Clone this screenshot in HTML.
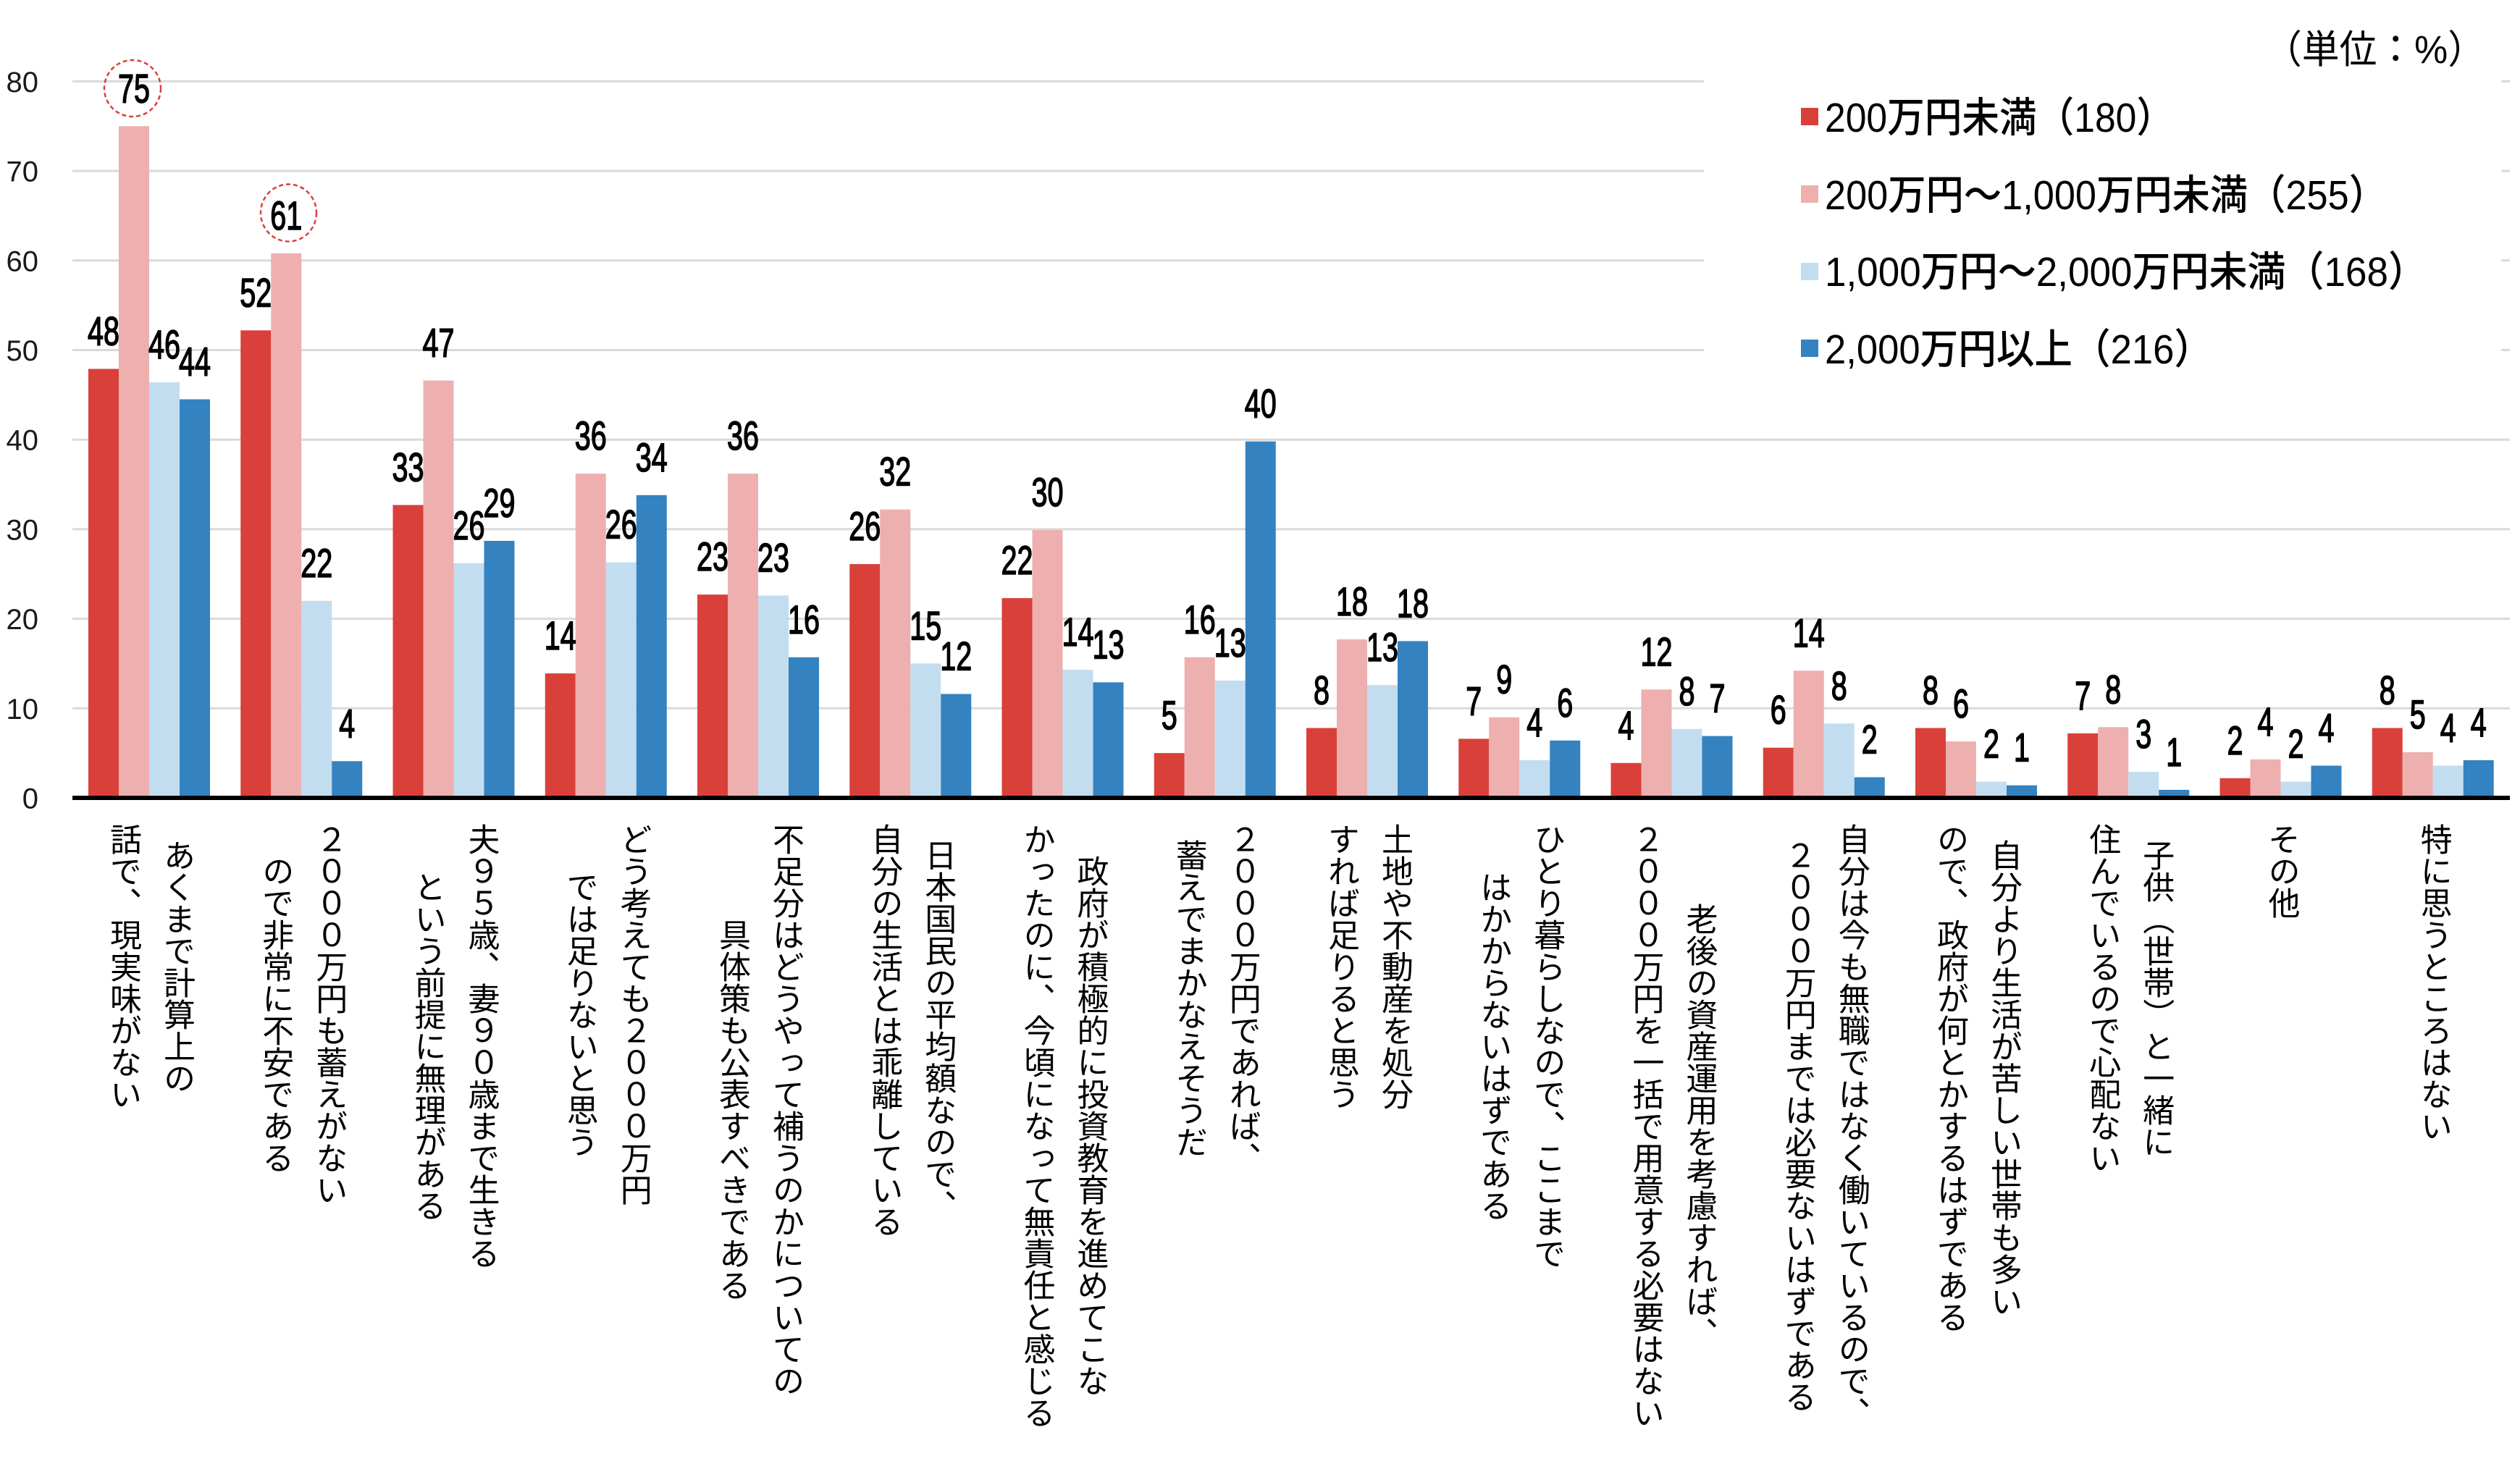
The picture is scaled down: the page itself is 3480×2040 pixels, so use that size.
<!DOCTYPE html>
<html><head><meta charset="utf-8">
<style>
html,body{margin:0;padding:0;background:#fff;}
#wrap{position:relative;width:3480px;height:2040px;overflow:hidden;background:#fff;}
svg{position:absolute;left:0;top:0;}
.dl{font-family:"Liberation Sans","Noto Sans CJK JP",sans-serif;font-size:56px;text-anchor:middle;fill:#000;stroke:#000;stroke-width:1.6px;}
.yl{font-family:"Liberation Sans","Noto Sans CJK JP",sans-serif;font-size:40px;text-anchor:end;fill:#1a1a1a;}
.lg{font-family:"Liberation Sans","Noto Sans CJK JP",sans-serif;font-size:57px;font-weight:500;fill:#000;}
.un{font-family:"Liberation Sans","Noto Sans CJK JP",sans-serif;font-size:54px;fill:#000;}
.vl{position:absolute;top:1137px;writing-mode:vertical-rl;font-family:"Liberation Sans","Noto Sans CJK JP",sans-serif;font-size:44px;line-height:74px;text-align:center;color:#000;white-space:nowrap;}
</style></head><body><div id="wrap">
<svg width="3480" height="2040" viewBox="0 0 3480 2040">
<!-- gridlines -->
<g stroke="#d9d9d9" stroke-width="3">
<line x1="100" y1="978.3" x2="3466" y2="978.3"/>
<line x1="100" y1="854.6" x2="3466" y2="854.6"/>
<line x1="100" y1="730.9" x2="3466" y2="730.9"/>
<line x1="100" y1="607.2" x2="3466" y2="607.2"/>
<line x1="100" y1="483.5" x2="3466" y2="483.5"/>
<line x1="100" y1="359.8" x2="3466" y2="359.8"/>
<line x1="100" y1="236.1" x2="3466" y2="236.1"/>
<line x1="100" y1="112.4" x2="3466" y2="112.4"/>
</g>
<!-- legend background -->
<rect x="2353" y="80" width="1101" height="480" fill="#fff"/>
<!-- y labels -->
<text class="yl" x="53" y="1116.5">0</text>
<text class="yl" x="53" y="992.8">10</text>
<text class="yl" x="53" y="869.1">20</text>
<text class="yl" x="53" y="745.4">30</text>
<text class="yl" x="53" y="621.7">40</text>
<text class="yl" x="53" y="498">50</text>
<text class="yl" x="53" y="374.3">60</text>
<text class="yl" x="53" y="250.6">70</text>
<text class="yl" x="53" y="126.9">80</text>

<!-- series 1: red -->
<g fill="#d9403a">
<rect x="122" y="509.5" width="42" height="592.5"/>
<rect x="332.25" y="456.3" width="42" height="645.7"/>
<rect x="542.5" y="697.5" width="42" height="404.5"/>
<rect x="752.75" y="930.1" width="42" height="171.9"/>
<rect x="963" y="821.2" width="42" height="280.8"/>
<rect x="1173.25" y="779.1" width="42" height="322.9"/>
<rect x="1383.5" y="826.1" width="42" height="275.9"/>
<rect x="1593.75" y="1040.1" width="42" height="61.9"/>
<rect x="1804" y="1005.5" width="42" height="96.5"/>
<rect x="2014.25" y="1020.4" width="42" height="81.6"/>
<rect x="2224.5" y="1053.8" width="42" height="48.2"/>
<rect x="2434.75" y="1032.7" width="42" height="69.3"/>
<rect x="2645" y="1005.5" width="42" height="96.5"/>
<rect x="2855.25" y="1012.9" width="42" height="89.1"/>
<rect x="3065.5" y="1074.8" width="42" height="27.2"/>
<rect x="3275.75" y="1005.5" width="42" height="96.5"/>
</g>
<!-- series 2: pink -->
<g fill="#eeafaf">
<rect x="164" y="174.25" width="42" height="927.75"/>
<rect x="374.25" y="349.9" width="42" height="752.1"/>
<rect x="584.5" y="525.6" width="42" height="576.4"/>
<rect x="794.75" y="654.2" width="42" height="447.8"/>
<rect x="1005" y="654.2" width="42" height="447.8"/>
<rect x="1215.25" y="703.7" width="42" height="398.3"/>
<rect x="1425.5" y="732.1" width="42" height="369.9"/>
<rect x="1635.75" y="907.8" width="42" height="194.2"/>
<rect x="1846" y="883.1" width="42" height="218.9"/>
<rect x="2056.25" y="990.7" width="42" height="111.3"/>
<rect x="2266.5" y="952.3" width="42" height="149.7"/>
<rect x="2476.75" y="926.3" width="42" height="175.7"/>
<rect x="2687" y="1024.1" width="42" height="77.9"/>
<rect x="2897.25" y="1004.3" width="42" height="97.7"/>
<rect x="3107.5" y="1048.8" width="42" height="53.2"/>
<rect x="3317.75" y="1038.9" width="42" height="63.1"/>
</g>
<!-- series 3: light blue -->
<g fill="#c3ddf0">
<rect x="206" y="528" width="42" height="574"/>
<rect x="416.25" y="829.9" width="42" height="272.1"/>
<rect x="626.5" y="777.9" width="42" height="324.1"/>
<rect x="836.75" y="776.7" width="42" height="325.3"/>
<rect x="1047" y="822.4" width="42" height="279.6"/>
<rect x="1257.25" y="916.4" width="42" height="185.6"/>
<rect x="1467.5" y="925.1" width="42" height="176.9"/>
<rect x="1677.75" y="940" width="42" height="162"/>
<rect x="1888" y="946.1" width="42" height="155.9"/>
<rect x="2098.25" y="1050" width="42" height="52"/>
<rect x="2308.5" y="1006.8" width="42" height="95.2"/>
<rect x="2518.75" y="999.3" width="42" height="102.7"/>
<rect x="2729" y="1079.7" width="42" height="22.3"/>
<rect x="2939.25" y="1066.1" width="42" height="35.9"/>
<rect x="3149.5" y="1079.7" width="42" height="22.3"/>
<rect x="3359.75" y="1057.5" width="42" height="44.5"/>
</g>
<!-- series 4: blue -->
<g fill="#3482c0">
<rect x="248" y="551.5" width="42" height="550.5"/>
<rect x="458.25" y="1051.3" width="42" height="50.7"/>
<rect x="668.5" y="747" width="42" height="355"/>
<rect x="878.75" y="683.9" width="42" height="418.1"/>
<rect x="1089" y="907.8" width="42" height="194.2"/>
<rect x="1299.25" y="958.5" width="42" height="143.5"/>
<rect x="1509.5" y="942.4" width="42" height="159.6"/>
<rect x="1719.75" y="609.7" width="42" height="492.3"/>
<rect x="1930" y="885.5" width="42" height="216.5"/>
<rect x="2140.25" y="1022.8" width="42" height="79.2"/>
<rect x="2350.5" y="1016.6" width="42" height="85.4"/>
<rect x="2560.75" y="1073.5" width="42" height="28.5"/>
<rect x="2771" y="1084.7" width="42" height="17.3"/>
<rect x="2981.25" y="1090.9" width="42" height="11.1"/>
<rect x="3191.5" y="1057.5" width="42" height="44.5"/>
<rect x="3401.75" y="1050" width="42" height="52"/>
</g>
<!-- axis -->
<rect x="100" y="1099" width="3366" height="6" fill="#000"/>

<!-- highlight circles -->
<ellipse cx="183" cy="122" rx="39" ry="39" fill="none" stroke="#d9403a" stroke-width="2.5" stroke-dasharray="6 4"/>
<ellipse cx="398.5" cy="294" rx="38.5" ry="39.5" fill="none" stroke="#d9403a" stroke-width="2.5" stroke-dasharray="6 4"/>

<!-- data labels -->
<text class="dl" x="143" y="476.5" textLength="44" lengthAdjust="spacingAndGlyphs">48</text>
<text class="dl" x="185" y="141.25" textLength="44" lengthAdjust="spacingAndGlyphs">75</text>
<text class="dl" x="227" y="495" textLength="44" lengthAdjust="spacingAndGlyphs">46</text>
<text class="dl" x="269" y="518.5" textLength="44" lengthAdjust="spacingAndGlyphs">44</text>
<text class="dl" x="353.25" y="423.3" textLength="44" lengthAdjust="spacingAndGlyphs">52</text>
<text class="dl" x="395.25" y="316.9" textLength="44" lengthAdjust="spacingAndGlyphs">61</text>
<text class="dl" x="437.25" y="796.9" textLength="44" lengthAdjust="spacingAndGlyphs">22</text>
<text class="dl" x="479.25" y="1018.3" textLength="22" lengthAdjust="spacingAndGlyphs">4</text>
<text class="dl" x="563.5" y="664.5" textLength="44" lengthAdjust="spacingAndGlyphs">33</text>
<text class="dl" x="605.5" y="492.6" textLength="44" lengthAdjust="spacingAndGlyphs">47</text>
<text class="dl" x="647.5" y="744.9" textLength="44" lengthAdjust="spacingAndGlyphs">26</text>
<text class="dl" x="689.5" y="714" textLength="44" lengthAdjust="spacingAndGlyphs">29</text>
<text class="dl" x="773.75" y="897.1" textLength="44" lengthAdjust="spacingAndGlyphs">14</text>
<text class="dl" x="815.75" y="621.2" textLength="44" lengthAdjust="spacingAndGlyphs">36</text>
<text class="dl" x="857.75" y="743.7" textLength="44" lengthAdjust="spacingAndGlyphs">26</text>
<text class="dl" x="899.75" y="650.9" textLength="44" lengthAdjust="spacingAndGlyphs">34</text>
<text class="dl" x="984" y="788.2" textLength="44" lengthAdjust="spacingAndGlyphs">23</text>
<text class="dl" x="1026" y="621.2" textLength="44" lengthAdjust="spacingAndGlyphs">36</text>
<text class="dl" x="1068" y="789.4" textLength="44" lengthAdjust="spacingAndGlyphs">23</text>
<text class="dl" x="1110" y="874.8" textLength="44" lengthAdjust="spacingAndGlyphs">16</text>
<text class="dl" x="1194.25" y="746.1" textLength="44" lengthAdjust="spacingAndGlyphs">26</text>
<text class="dl" x="1236.25" y="670.7" textLength="44" lengthAdjust="spacingAndGlyphs">32</text>
<text class="dl" x="1278.25" y="883.4" textLength="44" lengthAdjust="spacingAndGlyphs">15</text>
<text class="dl" x="1320.25" y="925.5" textLength="44" lengthAdjust="spacingAndGlyphs">12</text>
<text class="dl" x="1404.5" y="793.1" textLength="44" lengthAdjust="spacingAndGlyphs">22</text>
<text class="dl" x="1446.5" y="699.1" textLength="44" lengthAdjust="spacingAndGlyphs">30</text>
<text class="dl" x="1488.5" y="892.1" textLength="44" lengthAdjust="spacingAndGlyphs">14</text>
<text class="dl" x="1530.5" y="909.4" textLength="44" lengthAdjust="spacingAndGlyphs">13</text>
<text class="dl" x="1614.75" y="1007.1" textLength="22" lengthAdjust="spacingAndGlyphs">5</text>
<text class="dl" x="1656.75" y="874.8" textLength="44" lengthAdjust="spacingAndGlyphs">16</text>
<text class="dl" x="1698.75" y="907" textLength="44" lengthAdjust="spacingAndGlyphs">13</text>
<text class="dl" x="1740.75" y="576.7" textLength="44" lengthAdjust="spacingAndGlyphs">40</text>
<text class="dl" x="1825" y="972.5" textLength="22" lengthAdjust="spacingAndGlyphs">8</text>
<text class="dl" x="1867" y="850.1" textLength="44" lengthAdjust="spacingAndGlyphs">18</text>
<text class="dl" x="1909" y="913.1" textLength="44" lengthAdjust="spacingAndGlyphs">13</text>
<text class="dl" x="1951" y="852.5" textLength="44" lengthAdjust="spacingAndGlyphs">18</text>
<text class="dl" x="2035.25" y="987.4" textLength="22" lengthAdjust="spacingAndGlyphs">7</text>
<text class="dl" x="2077.25" y="957.7" textLength="22" lengthAdjust="spacingAndGlyphs">9</text>
<text class="dl" x="2119.25" y="1017" textLength="22" lengthAdjust="spacingAndGlyphs">4</text>
<text class="dl" x="2161.25" y="989.8" textLength="22" lengthAdjust="spacingAndGlyphs">6</text>
<text class="dl" x="2245.5" y="1020.8" textLength="22" lengthAdjust="spacingAndGlyphs">4</text>
<text class="dl" x="2287.5" y="919.3" textLength="44" lengthAdjust="spacingAndGlyphs">12</text>
<text class="dl" x="2329.5" y="973.8" textLength="22" lengthAdjust="spacingAndGlyphs">8</text>
<text class="dl" x="2371.5" y="983.6" textLength="22" lengthAdjust="spacingAndGlyphs">7</text>
<text class="dl" x="2455.75" y="999.7" textLength="22" lengthAdjust="spacingAndGlyphs">6</text>
<text class="dl" x="2497.75" y="893.3" textLength="44" lengthAdjust="spacingAndGlyphs">14</text>
<text class="dl" x="2539.75" y="966.3" textLength="22" lengthAdjust="spacingAndGlyphs">8</text>
<text class="dl" x="2581.75" y="1040.5" textLength="22" lengthAdjust="spacingAndGlyphs">2</text>
<text class="dl" x="2666" y="972.5" textLength="22" lengthAdjust="spacingAndGlyphs">8</text>
<text class="dl" x="2708" y="991.1" textLength="22" lengthAdjust="spacingAndGlyphs">6</text>
<text class="dl" x="2750" y="1046.7" textLength="22" lengthAdjust="spacingAndGlyphs">2</text>
<text class="dl" x="2792" y="1051.7" textLength="22" lengthAdjust="spacingAndGlyphs">1</text>
<text class="dl" x="2876.25" y="979.9" textLength="22" lengthAdjust="spacingAndGlyphs">7</text>
<text class="dl" x="2918.25" y="971.3" textLength="22" lengthAdjust="spacingAndGlyphs">8</text>
<text class="dl" x="2960.25" y="1033.1" textLength="22" lengthAdjust="spacingAndGlyphs">3</text>
<text class="dl" x="3002.25" y="1057.9" textLength="22" lengthAdjust="spacingAndGlyphs">1</text>
<text class="dl" x="3086.5" y="1041.8" textLength="22" lengthAdjust="spacingAndGlyphs">2</text>
<text class="dl" x="3128.5" y="1015.8" textLength="22" lengthAdjust="spacingAndGlyphs">4</text>
<text class="dl" x="3170.5" y="1046.7" textLength="22" lengthAdjust="spacingAndGlyphs">2</text>
<text class="dl" x="3212.5" y="1024.5" textLength="22" lengthAdjust="spacingAndGlyphs">4</text>
<text class="dl" x="3296.75" y="972.5" textLength="22" lengthAdjust="spacingAndGlyphs">8</text>
<text class="dl" x="3338.75" y="1005.9" textLength="22" lengthAdjust="spacingAndGlyphs">5</text>
<text class="dl" x="3380.75" y="1024.5" textLength="22" lengthAdjust="spacingAndGlyphs">4</text>
<text class="dl" x="3422.75" y="1017" textLength="22" lengthAdjust="spacingAndGlyphs">4</text>

<!-- unit -->
<text class="un" x="3127" y="87" textLength="305" lengthAdjust="spacingAndGlyphs">（単位：%）</text>

<!-- legend -->
<rect x="2487" y="149" width="24" height="24" fill="#d9403a"/>
<rect x="2487" y="256" width="24" height="24" fill="#eeafaf"/>
<rect x="2487" y="363" width="24" height="24" fill="#c3ddf0"/>
<rect x="2487" y="469" width="24" height="24" fill="#3482c0"/>
<text class="lg" x="2520" y="182" textLength="482" lengthAdjust="spacingAndGlyphs">200万円未満（180）</text>
<text class="lg" x="2520" y="289" textLength="776" lengthAdjust="spacingAndGlyphs">200万円～1,000万円未満（255）</text>
<text class="lg" x="2520" y="395" textLength="831" lengthAdjust="spacingAndGlyphs">1,000万円～2,000万円未満（168）</text>
<text class="lg" x="2520" y="502" textLength="535" lengthAdjust="spacingAndGlyphs">2,000万円以上（216）</text>
</svg>

<!-- vertical category labels -->
<div class="vl" style="left:132px;width:148px;height:396px;">あくまで計算上の<br>話で、現実味がない</div>
<div class="vl" style="left:342.25px;width:148px;height:528px;">２０００万円も蓄えがない<br>ので非常に不安である</div>
<div class="vl" style="left:552.5px;width:148px;height:616px;">夫９５歳、妻９０歳まで生きる<br>という前提に無理がある</div>
<div class="vl" style="left:762.75px;width:148px;height:528px;">どう考えても２０００万円<br>では足りないと思う</div>
<div class="vl" style="left:973px;width:148px;height:792px;">不足分はどうやって補うのかについての<br>具体策も公表すべきである</div>
<div class="vl" style="left:1183.25px;width:148px;height:572px;">日本国民の平均額なので、<br>自分の生活とは乖離している</div>
<div class="vl" style="left:1393.5px;width:148px;height:836px;">政府が積極的に投資教育を進めてこな<br>かったのに、今頃になって無責任と感じる</div>
<div class="vl" style="left:1603.75px;width:148px;height:484px;">２０００万円であれば、<br>蓄えでまかなえそうだ</div>
<div class="vl" style="left:1814px;width:148px;height:396px;">土地や不動産を処分<br>すれば足りると思う</div>
<div class="vl" style="left:2024.25px;width:148px;height:616px;">ひとり暮らしなので、ここまで<br>はかからないはずである</div>
<div class="vl" style="left:2234.5px;width:148px;height:836px;">老後の資産運用を考慮すれば、<br>２０００万円を一括で用意する必要はない</div>
<div class="vl" style="left:2444.75px;width:148px;height:836px;">自分は今も無職ではなく働いているので、<br>２０００万円までは必要ないはずである</div>
<div class="vl" style="left:2655px;width:148px;height:704px;">自分より生活が苦しい世帯も多い<br>ので、政府が何とかするはずである</div>
<div class="vl" style="left:2865.25px;width:148px;height:484px;">子供（世帯）と一緒に<br>住んでいるので心配ない</div>
<div class="vl" style="left:3112.5px;width:74px;height:132px;">その他</div>
<div class="vl" style="left:3322.75px;width:74px;height:440px;">特に思うところはない</div>
</div></body></html>
